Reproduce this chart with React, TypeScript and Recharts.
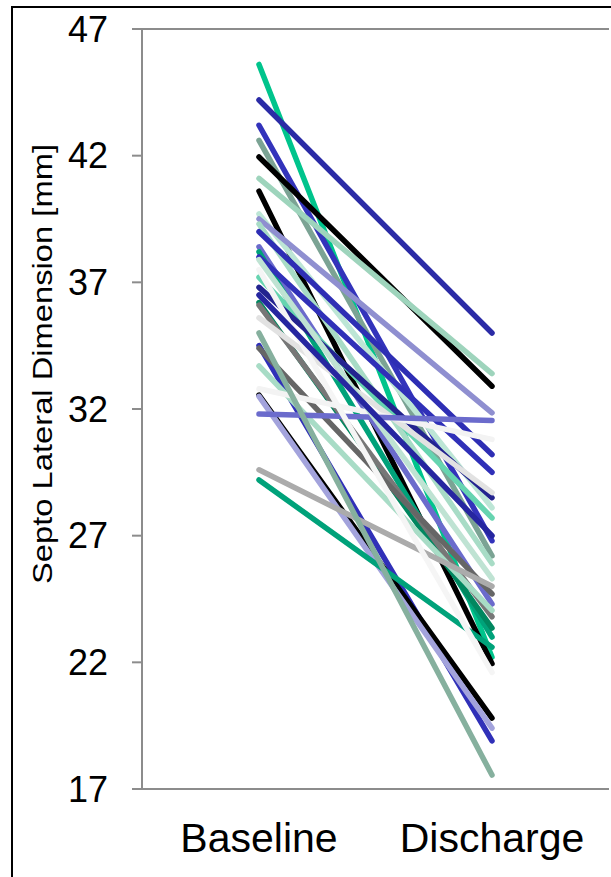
import React from "react";
import { LineChart, Line, XAxis, YAxis, CartesianGrid } from "recharts";

const categories = ["Baseline", "Discharge"];
const yTicks = [17, 22, 27, 32, 37, 42, 47];

// one entry per patient, same index in every array
const baseline = [
  45.6, 44.2, 43.2, 42.6, 41.95, 41.1, 40.6, 39.7, 39.5, 39.3, 39.0, 38.4, 38.2,
  38.0, 37.2, 36.8, 36.2, 36.1, 35.6, 34.5, 34.4, 33.7, 32.8, 32.55, 32.5, 31.8,
  29.6, 29.2, 35.0, 37.5, 37.9, 36.5,
];
const discharge = [
  22.2, 35.0, 26.8, 26.2, 32.9, 33.4, 21.95, 28.1, 31.85, 25.9, 30.2, 24.3, 23.0,
  29.5, 27.7, 28.5, 23.35, 23.8, 28.7, 18.9, 24.7, 24.05, 30.8, 19.8, 19.4, 31.55,
  25.0, 22.6, 17.55, 21.6, 25.3, 27.0,
];
const colors = [
  "#00C48C", "#2B2BA6", "#3333BB", "#7BA394", "#000000", "#9ED4BC", "#000000",
  "#BDE6D6", "#8F8FD0", "#A8DCC6", "#2E2EB4", "#6B6BCC", "#00A27A", "#3030B8",
  "#66D4B0", "#23238F", "#00875F", "#777777", "#E2E2E2", "#3030B8", "#666666",
  "#A8DCC6", "#F3F3F3", "#000000", "#A3A3DC", "#6B6BCC", "#ABABAB", "#00A27A",
  "#86B09E", "#F5F5F5", "#BFE3D3", "#2626A0",
];

const rows = categories.map((name, c) => {
  const row: Record<string, number | string> = { name };
  baseline.forEach((_, i) => {
    row[`p${i}`] = c === 0 ? baseline[i] : discharge[i];
  });
  return row;
});

const FONT = "Arial, 'Liberation Sans', sans-serif";
const GRID = "#8c8c8c";

function YTitle(props: any) {
  const vb = props.viewBox || {};
  const x = 42;
  const y = vb.y + 335;
  return (
    <text
      x={x}
      y={y}
      transform={`rotate(-90 ${x} ${y})`}
      textAnchor="middle"
      dominantBaseline="central"
      fontFamily={FONT}
      fontSize={28}
      fill="#000"
      textLength={440}
      lengthAdjust="spacingAndGlyphs"
    >
      Septo Lateral Dimension [mm]
    </text>
  );
}

export default function App() {
  return (
    <div
      style={{
        position: "fixed",
        left: 0,
        top: 0,
        width: 611,
        height: 877,
        overflow: "hidden",
        background: "#fff",
      }}
    >
      <div
        style={{
          position: "absolute",
          left: 11,
          top: 6,
          width: 700,
          height: 1000,
          border: "2px solid #000",
        }}
      />
      <div style={{ position: "absolute", left: 0, top: 0 }}>
        <LineChart
          width={611}
          height={877}
          data={rows}
          margin={{ top: 29, right: 2, left: 0, bottom: 0 }}
        >
          <CartesianGrid vertical={false} stroke={GRID} strokeWidth={2} />
          <XAxis
            dataKey="name"
            height={88}
            padding={{ left: 117, right: 117 }}
            axisLine={{ stroke: GRID, strokeWidth: 2 }}
            tickLine={false}
            tickSize={0}
            tickMargin={34}
            tick={{ fontSize: 41, fill: "#000", fontFamily: FONT }}
          />
          <YAxis
            yAxisId="l"
            width={142}
            domain={[17, 47]}
            ticks={yTicks}
            interval={0}
            axisLine={{ stroke: GRID, strokeWidth: 2 }}
            tickLine={{ stroke: GRID, strokeWidth: 2 }}
            tickSize={10}
            tickMargin={24}
            tick={{ fontSize: 36, fill: "#000", fontFamily: FONT }}
            label={<YTitle />}
          />
          <YAxis
            yAxisId="r"
            orientation="right"
            width={0}
            domain={[17, 47]}
            tick={false}
            tickLine={false}
            axisLine={{ stroke: GRID, strokeWidth: 2 }}
          />
          {baseline.map((_, i) => (
            <Line
              key={i}
              yAxisId="l"
              type="linear"
              dataKey={`p${i}`}
              stroke={colors[i]}
              strokeWidth={5.5}
              strokeLinecap="round"
              dot={false}
              activeDot={false}
              isAnimationActive={false}
            />
          ))}
        </LineChart>
      </div>
    </div>
  );
}
